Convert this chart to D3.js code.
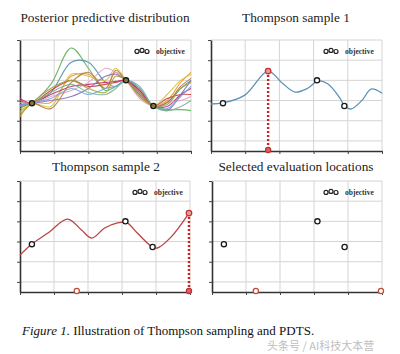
<!DOCTYPE html>
<html><head><meta charset="utf-8">
<script src="https://cdn.jsdelivr.net/npm/d3@7"></script>
<style>
html,body{margin:0;padding:0;background:#fff;}
svg{display:block;}
</style></head>
<body>
<svg id="chart" width="400" height="354"></svg>
<script>
// ---------- data ----------
const xTicks = [0, 1, 2, 3, 4, 5];
const yTicks = [0, 1, 2, 3, 4, 5];
const titles = ["Posterior predictive distribution", "Thompson sample 1", "Thompson sample 2", "Selected evaluation locations"];
const legendLabel = "objective";
const caption = "Illustration of Thompson sampling and PDTS.";
const captionLead = "Figure 1.";
const watermark = "头条号 / AI科技大本营";

// observed objective evaluations (x, y)
const observedX = [0.35, 3.1, 3.9];
const observedY = [1.87, 3.0, 1.73];

// posterior samples (panel 1), evaluated at knotX
const knotX = [0, 0.35, 0.9, 1.5, 2.0, 2.5, 2.8, 3.1, 3.5, 3.9, 4.3, 4.7, 5.0];
const posteriorSamples = [
  {color: "#5fae5a", y: [1.5, 1.87, 2.8, 4.6, 3.6, 2.5, 2.7, 3.0, 2.4, 1.73, 1.55, 1.55, 1.5]},
  {color: "#4e8fa8", y: [1.7, 1.87, 2.4, 3.9, 3.9, 2.9, 2.7, 3.0, 2.6, 1.73, 1.9, 2.6, 3.0]},
  {color: "#e39a3a", y: [1.2, 1.87, 1.9, 3.2, 3.3, 2.6, 3.4, 3.0, 2.2, 1.73, 2.0, 2.9, 3.4]},
  {color: "#d8c040", y: [1.4, 1.87, 1.7, 3.3, 3.2, 3.0, 3.6, 3.0, 2.3, 1.73, 2.3, 3.0, 3.3]},
  {color: "#d23a3a", y: [2.0, 1.87, 2.5, 3.0, 2.7, 2.8, 2.9, 3.0, 2.5, 1.73, 2.1, 2.3, 2.3]},
  {color: "#c0306e", y: [2.1, 1.87, 2.3, 2.7, 2.8, 2.9, 2.95, 3.0, 2.5, 1.73, 1.7, 2.3, 2.6]},
  {color: "#e6a0c0", y: [1.9, 1.87, 2.2, 2.5, 2.9, 3.6, 3.4, 3.0, 2.1, 1.73, 1.9, 2.0, 2.2]},
  {color: "#8a6cc0", y: [1.8, 1.87, 2.0, 2.2, 2.6, 3.2, 3.3, 3.0, 2.3, 1.73, 1.5, 2.3, 3.0]},
  {color: "#b07a3a", y: [1.6, 1.87, 1.6, 2.9, 3.4, 2.6, 3.5, 3.0, 2.4, 1.73, 1.9, 2.7, 3.1]},
  {color: "#70a8d8", y: [1.75, 1.87, 2.1, 2.6, 2.3, 2.6, 2.7, 3.0, 2.7, 1.73, 1.6, 2.2, 2.7]},
  {color: "#a0a040", y: [1.3, 1.87, 2.6, 3.0, 2.6, 2.4, 3.2, 3.0, 2.2, 1.73, 1.8, 2.6, 2.9]},
  {color: "#80b090", y: [1.9, 1.87, 2.4, 2.8, 2.4, 2.3, 2.6, 3.0, 2.6, 1.73, 1.5, 1.7, 2.0]}
];

// Thompson sample 1
const sample1X = [0, 0.35, 0.99, 1.67, 2.08, 2.46, 2.84, 3.13, 3.42, 3.77, 3.89, 4.09, 4.42, 4.68, 5.0];
const sample1Y = [1.83, 1.88, 2.27, 3.46, 2.87, 2.42, 2.62, 2.97, 2.82, 2.12, 1.78, 1.58, 2.02, 2.57, 2.37];
const pick1 = [1.67, 3.46];

// Thompson sample 2
const sample2X = [0, 0.35, 0.82, 1.40, 1.81, 2.11, 2.49, 2.87, 3.13, 3.45, 3.89, 4.04, 4.44, 4.97];
const sample2Y = [1.33, 1.88, 2.42, 3.11, 2.57, 2.17, 2.67, 2.92, 2.95, 2.42, 1.73, 1.68, 2.22, 3.41];
const pick2 = [4.97, 3.41];

// bottom markers (selected locations)
const selectedBottom3 = [1.67];
const selectedBottom4 = [1.29, 4.97];
const bottomY = -0.45;

// ---------- layout ----------
const panels = [
  {left: 20, right: 191, top: 40, bottom: 151, titleX: 105, titleY: 22, legX: 137},
  {left: 211, right: 382, top: 40, bottom: 151, titleX: 296, titleY: 22, legX: 326},
  {left: 20, right: 190, top: 181, bottom: 292, titleX: 106, titleY: 171, legX: 135},
  {left: 212, right: 382, top: 181, bottom: 292, titleX: 296, titleY: 171, legX: 326}
];

const svg = d3.select("#chart");
const serif = "'Liberation Serif','DejaVu Serif',serif";

function makePanel(i) {
  const p = panels[i];
  const x = d3.scaleLinear().domain([0, 5]).range([p.left, p.right]);
  const y = d3.scaleLinear().domain([-0.5, 5]).range([p.bottom, p.top]);
  const g = svg.append("g");
  // grid
  g.selectAll(".gx").data(xTicks.slice(1)).join("line")
    .attr("x1", d => x(d)).attr("x2", d => x(d)).attr("y1", p.top).attr("y2", p.bottom)
    .attr("stroke", "#d4d4d4").attr("stroke-width", 1);
  g.selectAll(".gy").data(yTicks).join("line")
    .attr("x1", p.left).attr("x2", p.right).attr("y1", d => y(d)).attr("y2", d => y(d))
    .attr("stroke", "#d4d4d4").attr("stroke-width", 1);
  // axes
  const ax = g.append("g").attr("transform", `translate(0,${p.bottom})`)
    .call(d3.axisBottom(x).tickValues(xTicks).tickSize(3).tickSizeOuter(0).tickFormat(""));
  const ay = g.append("g").attr("transform", `translate(${p.left},0)`)
    .call(d3.axisLeft(y).tickValues(yTicks).tickSize(3).tickSizeOuter(0).tickFormat(""));
  [ax, ay].forEach(a => {
    a.select(".domain").attr("stroke", "#333").attr("stroke-width", 1.6);
    a.selectAll(".tick line").attr("stroke", "#444").attr("stroke-width", 1);
  });
  // title
  svg.append("text").attr("x", p.titleX).attr("y", p.titleY).attr("text-anchor", "middle")
    .attr("font-family", serif).attr("font-size", 13.3).attr("fill", "#222").text(titles[i]);
  // legend
  const ly = y(5) + 11;
  const offs = [0.4, -0.6, 0.5];
  offs.forEach((o, k) => {
    g.append("circle").attr("cx", p.legX + k * 5).attr("cy", ly + o).attr("r", 2)
      .attr("fill", "#fff").attr("stroke", "#222").attr("stroke-width", 1.2);
  });
  g.append("text").attr("x", p.legX + 19).attr("y", ly + 2.5)
    .attr("font-family", serif).attr("font-size", 7.5).attr("font-weight", "bold").attr("fill", "#333").text(legendLabel);
  return {g, x, y, p};
}

function curvePath(xs, ys, x, y) {
  return d3.line().x((d, k) => x(xs[k])).y(d => y(d)).curve(d3.curveCatmullRom.alpha(0.5))(ys);
}

function observed(P, fill) {
  P.g.selectAll(null).data(observedX).join("circle")
    .attr("cx", d => P.x(d)).attr("cy", (d, k) => P.y(observedY[k])).attr("r", 2.6)
    .attr("fill", fill).attr("stroke", "#1a1a1a").attr("stroke-width", 1.3);
}

function pickLine(P, pt) {
  P.g.append("line").attr("x1", P.x(pt[0])).attr("x2", P.x(pt[0]))
    .attr("y1", P.y(pt[1])).attr("y2", P.y(bottomY))
    .attr("stroke", "#d42020").attr("stroke-width", 2.4).attr("stroke-dasharray", "2,2");
  P.g.append("circle").attr("cx", P.x(pt[0])).attr("cy", P.y(pt[1])).attr("r", 2.8)
    .attr("fill", "#e89a9a").attr("stroke", "#c03030").attr("stroke-width", 1.2);
  P.g.append("circle").attr("cx", P.x(pt[0])).attr("cy", P.y(bottomY)).attr("r", 2.6)
    .attr("fill", "#d86060").attr("stroke", "#c03030").attr("stroke-width", 1.2);
}

function bottomMarks(P, xs) {
  P.g.selectAll(null).data(xs).join("circle")
    .attr("cx", d => P.x(d)).attr("cy", P.y(bottomY)).attr("r", 2.6)
    .attr("fill", "#fff").attr("stroke", "#c04a3a").attr("stroke-width", 1.2);
}

// Panel 1
const P1 = makePanel(0);
posteriorSamples.forEach(s => {
  P1.g.append("path").attr("d", curvePath(knotX, s.y, P1.x, P1.y))
    .attr("fill", "none").attr("stroke", s.color).attr("stroke-width", 1.1).attr("opacity", 0.9);
});
observed(P1, "#8a7a3a");

// Panel 2
const P2 = makePanel(1);
P2.g.append("path").attr("d", curvePath(sample1X, sample1Y, P2.x, P2.y))
  .attr("fill", "none").attr("stroke", "#5b93b8").attr("stroke-width", 1.3);
observed(P2, "#fff");
pickLine(P2, pick1);

// Panel 3
const P3 = makePanel(2);
P3.g.append("path").attr("d", curvePath(sample2X, sample2Y, P3.x, P3.y))
  .attr("fill", "none").attr("stroke", "#b84444").attr("stroke-width", 1.3);
observed(P3, "#fff");
bottomMarks(P3, selectedBottom3);
pickLine(P3, pick2);

// Panel 4
const P4 = makePanel(3);
observed(P4, "#fff");
bottomMarks(P4, selectedBottom4);

// caption
const cap = svg.append("text").attr("x", 22).attr("y", 335)
  .attr("font-family", serif).attr("font-size", 13).attr("fill", "#111");
cap.append("tspan").attr("font-style", "italic").text(captionLead);
cap.append("tspan").text(" " + caption);

// watermark
svg.append("text").attr("x", 267).attr("y", 350)
  .attr("font-family", "'Noto Sans CJK SC',sans-serif").attr("font-size", 11)
  .attr("fill", "#b8b8b8").attr("opacity", 0.9).text(watermark);
</script>
</body></html>
